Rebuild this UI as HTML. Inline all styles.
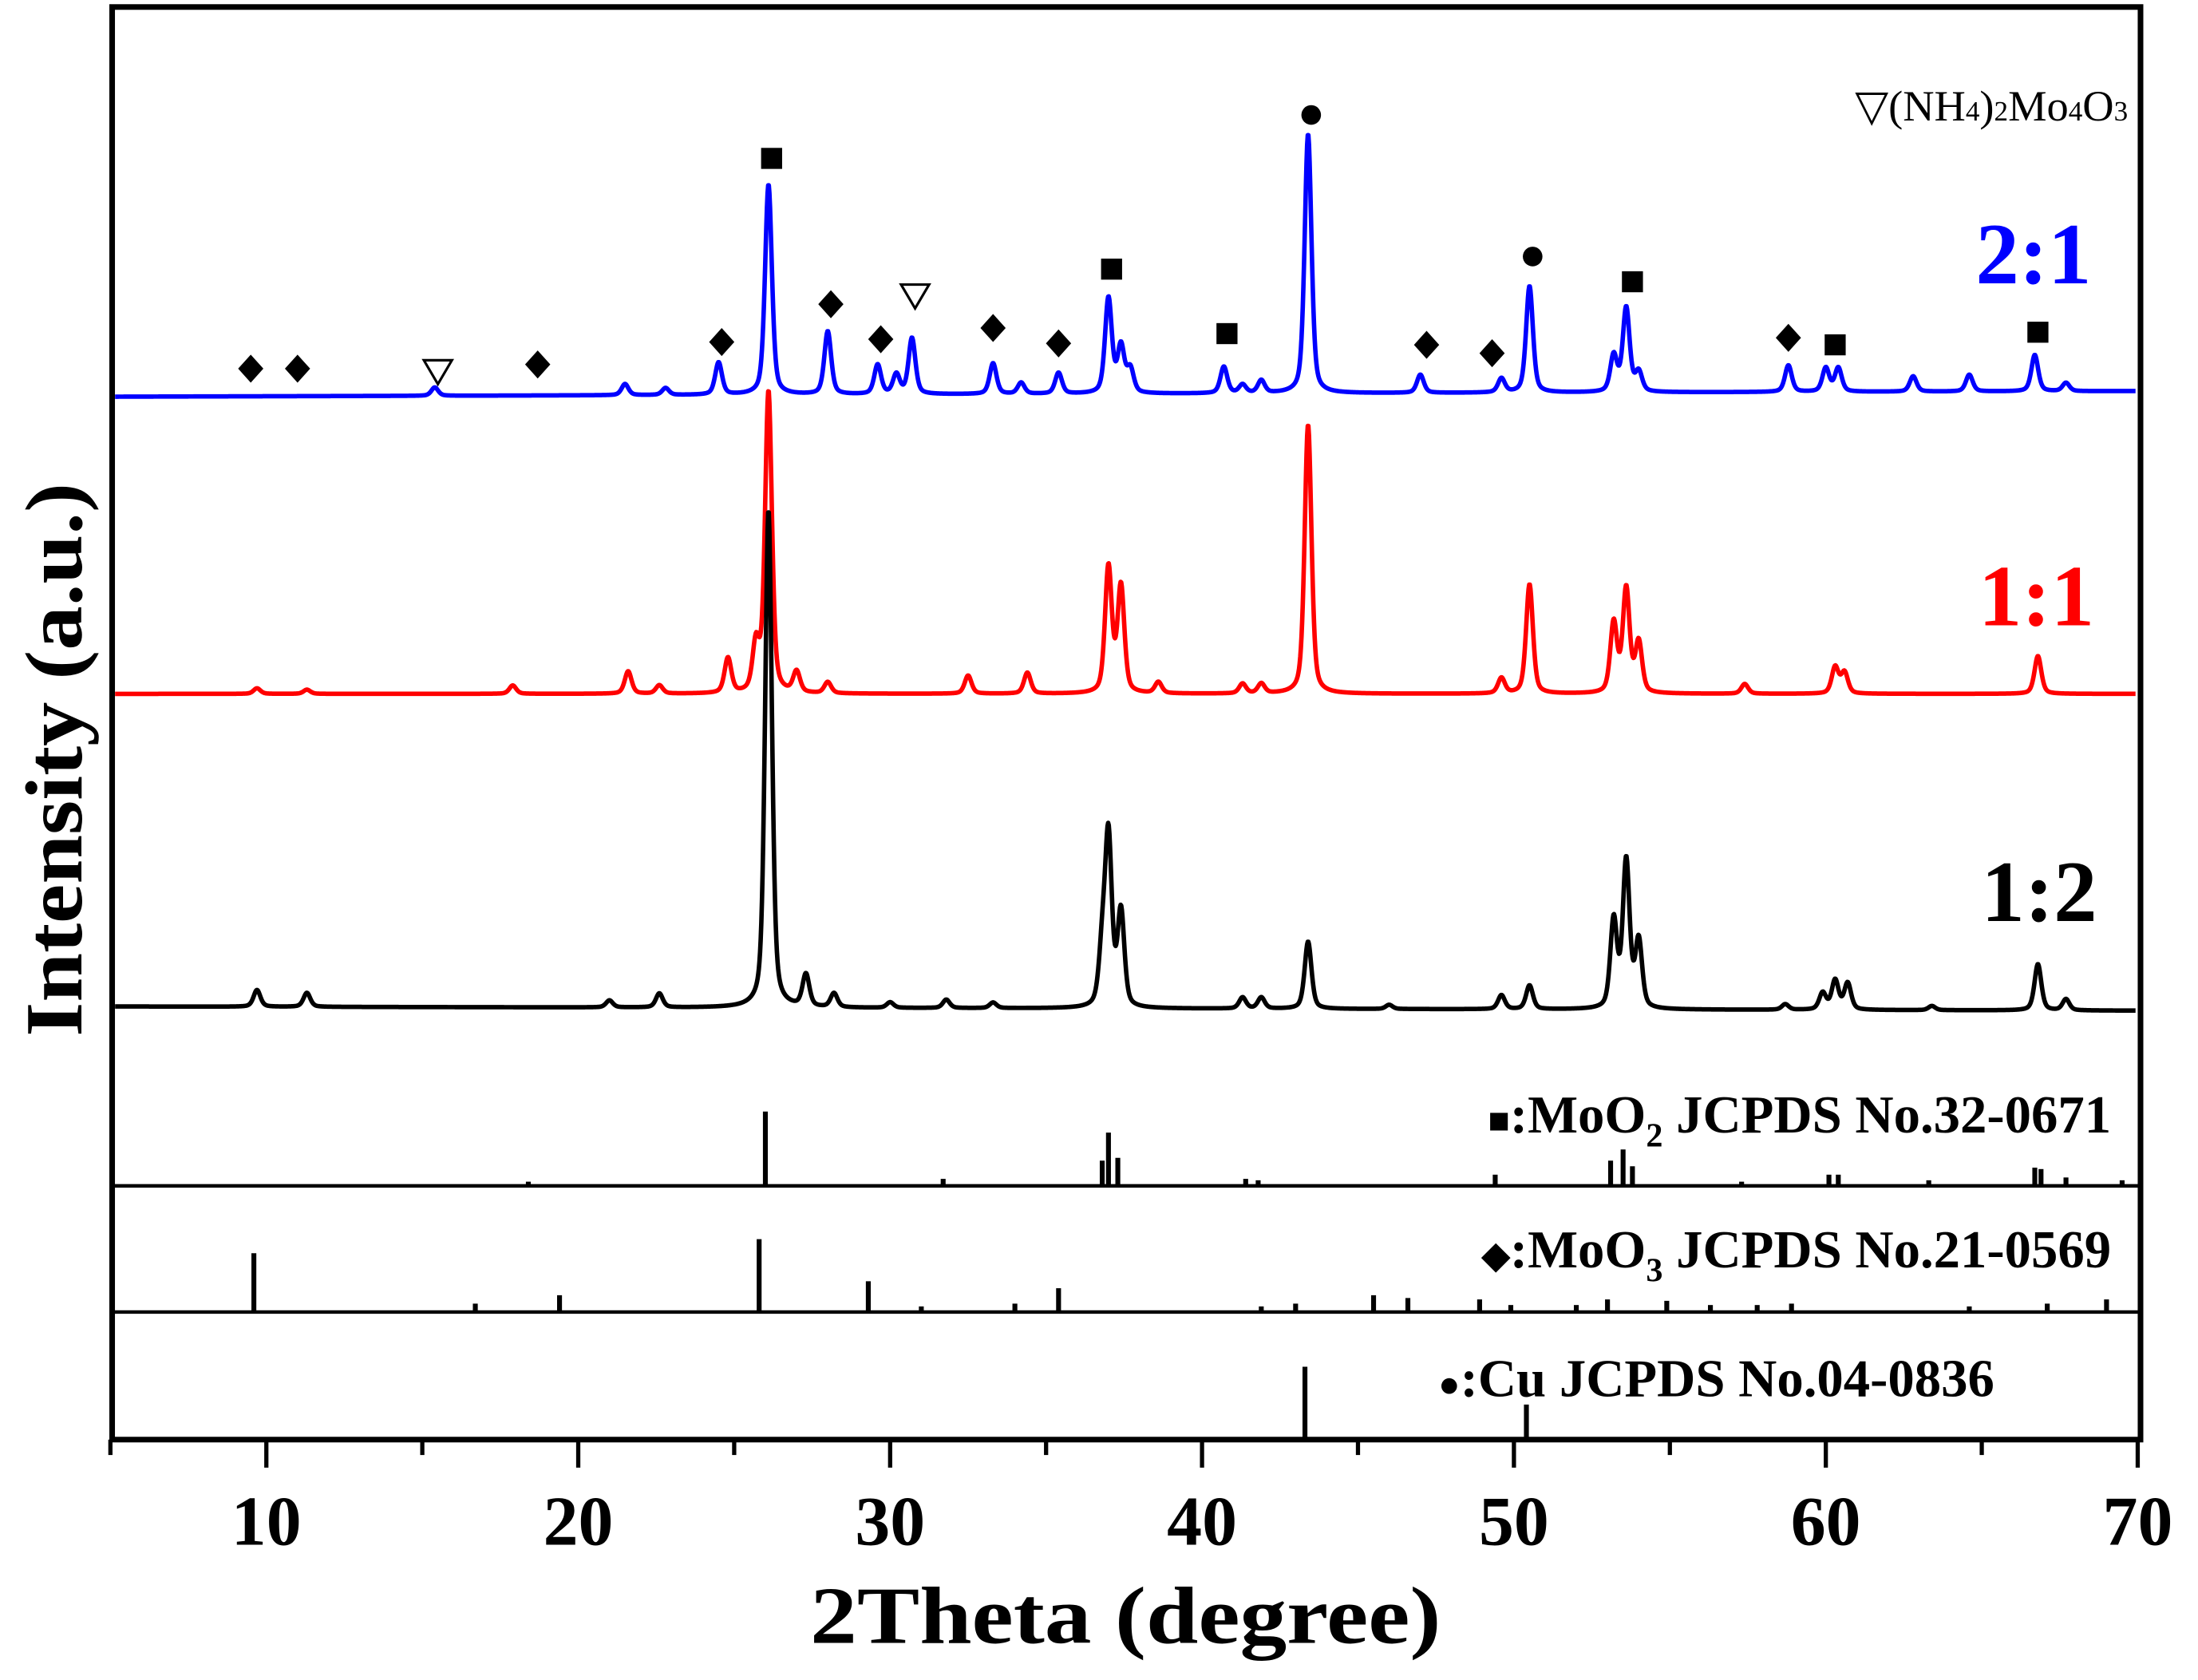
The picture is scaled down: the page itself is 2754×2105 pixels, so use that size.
<!DOCTYPE html>
<html><head><meta charset="utf-8"><style>
html,body{margin:0;padding:0;background:#fff;}
svg{display:block;}
text{font-family:"Liberation Serif",serif;}
</style></head><body>
<svg id="chart" width="2754" height="2105" viewBox="0 0 1568 1198.5" xmlns="http://www.w3.org/2000/svg">
<g id="plot"></g>
</svg>
<script>
// x axis
const xTicks = [10,20,30,40,50,60,70];
const xMinor = [5,15,25,35,45,55,65];
// blue 2:1 pattern: positions / intensities
const blueBase = 283;
const bluePos = [26.1,43.4,37.0,50.5,53.6,28.0,30.7,24.5,33.3,29.6,35.4,37.4,40.7,53.2,54.0,58.8,60.0,60.4,66.7,15.4,21.5,47.0,49.6,41.9,64.6,62.8,30.2,37.7,34.2,22.8,41.3,67.7];
const blueInt = [150,185,68,76,60,45,40,23,22,21,15,33,19,26,14,19,17,17,26,6,8,13,10,9,12,11,14,17,8,5,6,6];
// red 1:1 pattern
const redBase = 495;
const redPos = [26.1,43.4,37.0,37.4,50.5,53.6,53.2,54.0,25.7,24.8,21.6,27.0,32.5,34.4,17.9,66.8,60.3,60.6,49.6,57.4,9.7,11.3,38.6,41.3,41.9,28.0,22.6];
const redInt = [215,192,90,76,78,74,50,36,34,25,16,15,13,15,6,27,19,15,11,7,4,3,8,7,7,8,6];
// black 1:2 pattern
const blackBase = 718;
const blackPos = [26.1,37.0,37.4,53.6,53.2,54.0,43.4,66.8,27.3,9.7,11.3,22.6,50.5,49.6,60.3,60.7,59.9,28.2,41.3,41.9,31.8,33.3,21.0,67.7,58.7,63.4,36.8,30.0,46.0];
const blackInt = [355,120,68,105,63,48,48,33,23,12,10,10,17,10,21,19,12,10,8,8,6,4,5,8,4,3,38,4,3];
// reference patterns
const moo2Pos = [26.0,37.0,36.8,37.3,53.1,53.5,53.8,18.4,31.7,41.4,41.8,49.4,57.3,60.1,60.4,63.3,66.7,66.9,67.7,69.5];
const moo2Int = [53,38,18,20,18,26,14,3,5,5,4,8,3,8,8,4,13,12,6,4];
const moo3Pos = [9.6,25.8,29.3,35.4,16.7,19.4,31.0,34.0,41.9,43.0,45.5,46.6,48.9,49.9,52.0,53.0,54.9,56.3,57.8,58.9,64.6,67.1,69.0];
const moo3Int = [42,52,22,17,6,12,4,6,4,6,12,10,9,5,5,9,8,5,5,6,4,6,9];
const cuPos = [43.3,50.4];
const cuInt = [52,25];
// markers on 2:1
const markerType = ['d','d','t','d','d','s','d','d','t','d','d','s','s','c','d','d','c','s','d','s','s'];
const markerPos = [9.5,11.0,15.5,18.7,24.6,26.2,28.1,29.7,30.8,33.3,35.4,37.1,40.8,43.5,47.2,49.3,50.6,53.8,58.8,60.3,66.8];
const markerY = [263,263,265,260,244,113,217,242,211,234,245,192,238,82,246,252,183,201,241,246,237];

const NS = 'http://www.w3.org/2000/svg';
const plot = document.getElementById('plot');
const L = 80, R = 1527, T = 5, B = 1027;
function xs(v){ return 190 + (v - 10) * 22.25; }
function mk(tag, attrs, parent){
  const e = document.createElementNS(NS, tag);
  for (const k in attrs) e.setAttribute(k, attrs[k]);
  (parent || plot).appendChild(e);
  return e;
}
function curve(pos, ints, base, color, name, tilt){
  let d = '';
  for (let x = 5.15; x <= 69.95; x += 0.02){
    let s = 0;
    for (let i = 0; i < pos.length; i++){
      const g = 0.13, dx = x - pos[i];
      s += ints[i] * (0.55 * Math.exp(-dx*dx/(2*0.11*0.11)) + 0.45 * g*g/(dx*dx+g*g));
    }
    const y = base - s + tilt * (x - 5) / 65;
    d += (d ? 'L' : 'M') + xs(x).toFixed(2) + ' ' + y.toFixed(2);
  }
  const p = mk('path', {d: d, fill: 'none', stroke: color, 'stroke-width': 3.2, 'stroke-linejoin': 'round'});
  
  
}
curve(bluePos, blueInt, blueBase, '#0000ff', 'curve-2-1', -4);
curve(redPos, redInt, redBase, '#ff0000', 'curve-1-1', 0);
curve(blackPos, blackInt, blackBase, '#000000', 'curve-1-2', 3);

function sticks(pos, ints, base, name){
  for (let i = 0; i < pos.length; i++){
    const l = mk('line', {x1: xs(pos[i]), x2: xs(pos[i]), y1: base, y2: base - ints[i], stroke: '#000', 'stroke-width': 3.5});
    
    
  }
}
sticks(moo2Pos, moo2Int, 846, 'moo2-ref-line');
sticks(moo3Pos, moo3Int, 936, 'moo3-ref-line');
sticks(cuPos, cuInt, 1027, 'cu-ref-line');

[846, 936].forEach(y => {
  const l = mk('line', {x1: L, x2: R, y1: y, y2: y, stroke: '#000', 'stroke-width': 2.5});
  
  
});

for (let i = 0; i < markerPos.length; i++){
  const cx = xs(markerPos[i]), cy = markerY[i], t = markerType[i];
  let e;
  if (t === 'd') e = mk('polygon', {points: `${cx},${cy-10} ${cx+9},${cy} ${cx},${cy+10} ${cx-9},${cy}`, fill: '#000'});
  else if (t === 's') e = mk('rect', {x: cx-7.5, y: cy-7.5, width: 15, height: 15, fill: '#000'});
  else if (t === 'c') e = mk('circle', {cx: cx, cy: cy, r: 7, fill: '#000'});
  else e = mk('polygon', {points: `${cx-10},${cy-8} ${cx+10},${cy-8} ${cx},${cy+9}`, fill: '#fff', stroke: '#000', 'stroke-width': 1.8});
  
  
}

const fr = mk('rect', {x: L, y: T, width: R - L, height: B - T, fill: 'none', stroke: '#000', 'stroke-width': 4});



xTicks.forEach(v => {
  const t = mk('line', {x1: xs(v), x2: xs(v), y1: B, y2: B + 20, stroke: '#000', 'stroke-width': 3});
  
  
  const tx = mk('text', {x: xs(v), y: 1102, 'text-anchor': 'middle', 'font-size': 50, 'font-weight': 'bold'});
  tx.textContent = v;
  
  
});
xMinor.forEach(v => {
  const t = mk('line', {x1: xs(v), x2: xs(v), y1: B, y2: B + 11, stroke: '#000', 'stroke-width': 3});
  
  
});
</script>
<svg style="position:absolute;left:0;top:0" width="2754" height="2105" viewBox="0 0 1568 1198.5" xmlns="http://www.w3.org/2000/svg">
<text x="803" y="1172" text-anchor="middle" font-size="58" font-weight="bold" textLength="450" lengthAdjust="spacingAndGlyphs" font-family="Liberation Serif, serif">2Theta (degree)</text>
<text transform="translate(58,542) rotate(-90)" text-anchor="middle" font-size="58" font-weight="bold" textLength="395" lengthAdjust="spacingAndGlyphs" font-family="Liberation Serif, serif">Intensity (a.u.)</text>
<text x="1492" y="202" text-anchor="end" font-size="62" font-weight="bold" fill="#0000ff" font-family="Liberation Serif, serif">2:1</text>
<text x="1494" y="446" text-anchor="end" font-size="62" font-weight="bold" fill="#ff0000" font-family="Liberation Serif, serif">1:1</text>
<text x="1496" y="657" text-anchor="end" font-size="62" font-weight="bold" fill="#000" font-family="Liberation Serif, serif">1:2</text>
<text x="1518" y="86" text-anchor="end" font-size="31" font-family="Liberation Serif, DejaVu Sans, serif">▽(NH<tspan font-size="20">4</tspan>)<tspan font-size="20">2</tspan>Mo<tspan font-size="20">4</tspan>O<tspan font-size="20">3</tspan></text>
<text x="1506" y="808" text-anchor="end" font-size="38" font-weight="bold" font-family="Liberation Serif, serif"><tspan font-size="26">■</tspan>:MoO<tspan font-size="24" dy="10">2</tspan><tspan dy="-10"> JCPDS No.32-0671</tspan></text>
<text x="1506" y="904" text-anchor="end" font-size="38" font-weight="bold" font-family="Liberation Serif, serif"><tspan font-size="26">◆</tspan>:MoO<tspan font-size="24" dy="10">3</tspan><tspan dy="-10"> JCPDS No.21-0569</tspan></text>
<text x="1026" y="996" font-size="38" font-weight="bold" font-family="Liberation Serif, serif"><tspan font-size="26">●</tspan>:Cu JCPDS No.04-0836</text>
</svg>
</body></html>
